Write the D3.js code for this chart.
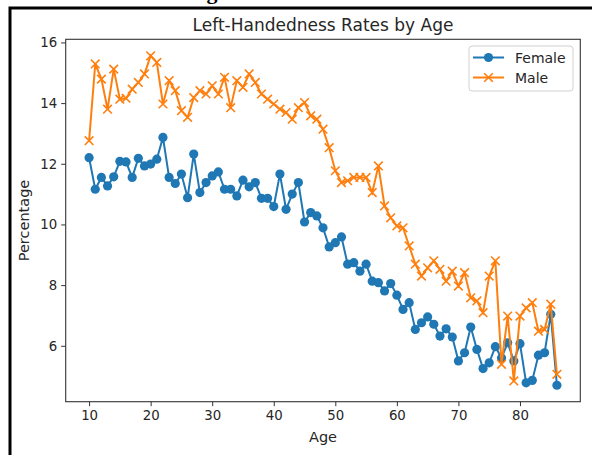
<!DOCTYPE html>
<html>
<head>
<meta charset="utf-8">
<script src="https://cdn.jsdelivr.net/npm/d3@7"></script>
<style>
  html, body { margin: 0; padding: 0; background: #fff; }
  svg { display: block; }
  text { font-family: "DejaVu Sans", sans-serif; fill: #262626; }
</style>
</head>
<body>
<svg id="chart" width="592" height="455"></svg>
<script>
const ages = d3.range(10, 87);
const female = [
  12.2, 11.16, 11.55, 11.27, 11.57, 12.08, 12.06, 11.55, 12.18, 11.93,
  11.99, 12.15, 12.87, 11.55, 11.35, 11.66, 10.88, 12.32, 11.05, 11.38,
  11.6, 11.73, 11.16, 11.16, 10.94, 11.46, 11.24, 11.38, 10.86, 10.86,
  10.59, 11.66, 10.5, 11.0, 11.38, 10.08, 10.39, 10.28, 9.89, 9.26,
  9.4, 9.59, 8.69, 8.74, 8.46, 8.69, 8.13, 8.08, 7.81, 8.05,
  7.67, 7.2, 7.42, 6.54, 6.76, 6.95, 6.71, 6.32, 6.56, 6.29,
  5.5, 5.77, 6.62, 5.88, 5.25, 5.44, 5.97, 5.6, 6.1, 5.5,
  6.07, 4.78, 4.86, 5.69, 5.77, 7.04, 4.7
];
const male = [
  12.76, 15.29, 14.79, 13.8, 15.12, 14.13, 14.16, 14.46, 14.68, 14.96,
  15.56, 15.34, 13.97, 14.74, 14.41, 13.75, 13.53, 14.18, 14.41, 14.3,
  14.57, 14.3, 14.85, 13.85, 14.74, 14.52, 14.96, 14.68, 14.3, 14.13,
  13.97, 13.8, 13.69, 13.47, 13.85, 14.02, 13.58, 13.47, 13.14, 12.53,
  11.77, 11.38, 11.44, 11.55, 11.55, 11.55, 11.05, 11.93, 10.61, 10.22,
  9.95, 9.89, 9.29, 8.69, 8.3, 8.57, 8.8, 8.52, 8.13, 8.46,
  7.97, 8.41, 7.58, 7.48, 7.09, 8.3, 8.8, 5.39, 6.98, 4.84,
  6.98, 7.25, 7.42, 6.48, 6.54, 7.37, 5.06
];
const xTicks = [10, 20, 30, 40, 50, 60, 70, 80];
const yTicks = [6, 8, 10, 12, 14, 16];
const seriesNames = ["Female", "Male"];
const colors = ["#1f77b4", "#ff7f0e"];

const svg = d3.select("#chart");

// outer frame (cropped screenshot border)
svg.append("rect").attr("x", 10).attr("y", 8).attr("width", 620).attr("height", 480)
  .attr("fill", "none").attr("stroke", "#000").attr("stroke-width", 3);
svg.append("text").attr("x", 212).attr("y", -1).attr("text-anchor", "middle")
  .style("font-family", "'Liberation Serif', serif").style("font-weight", "bold")
  .style("font-size", "22px").style("fill", "#000").text("g");

const L = 65.7, R = 580.3, T = 39.3, B = 401.7;
const xPad = (86 - 10) * 0.05;
const x = d3.scaleLinear().domain([10 - xPad, 86 + xPad]).range([L, R]);
const all = female.concat(male);
const lo = d3.min(all), hi = d3.max(all), yPad = (hi - lo) * 0.05;
const y = d3.scaleLinear().domain([lo - yPad, hi + yPad]).range([B, T]);

// axes
const xAxis = d3.axisBottom(x).tickValues(xTicks).tickSize(4.5).tickPadding(4).tickFormat(d3.format("d"));
const yAxis = d3.axisLeft(y).tickValues(yTicks).tickSize(4.5).tickPadding(4).tickFormat(d3.format("d"));
const gx = svg.append("g").attr("transform", `translate(0,${B})`).call(xAxis);
const gy = svg.append("g").attr("transform", `translate(${L},0)`).call(yAxis);
[gx, gy].forEach(g => {
  g.select(".domain").remove();
  g.selectAll(".tick line").attr("stroke", "#333").attr("stroke-width", 1);
  g.selectAll(".tick text").style("font-family", "'DejaVu Sans', sans-serif").style("font-size", "13.3px").attr("fill", "#262626");
});

const line = d3.line().x((d, i) => x(ages[i])).y(d => y(d));

// female
svg.append("path").datum(female).attr("d", line).attr("fill", "none")
  .attr("stroke", colors[0]).attr("stroke-width", 2);
svg.append("g").selectAll("circle").data(female).join("circle")
  .attr("cx", (d, i) => x(ages[i])).attr("cy", d => y(d)).attr("r", 4.6)
  .attr("fill", colors[0]);

// male
svg.append("path").datum(male).attr("d", line).attr("fill", "none")
  .attr("stroke", colors[1]).attr("stroke-width", 2);
const s = 4.3;
svg.append("g").selectAll("path").data(male).join("path")
  .attr("d", (d, i) => {
    const cx = x(ages[i]), cy = y(d);
    return `M${cx - s},${cy - s}L${cx + s},${cy + s}M${cx - s},${cy + s}L${cx + s},${cy - s}`;
  })
  .attr("stroke", colors[1]).attr("stroke-width", 1.6).attr("fill", "none");

// spines
svg.append("rect").attr("x", L).attr("y", T).attr("width", R - L).attr("height", B - T)
  .attr("fill", "none").attr("stroke", "#333").attr("stroke-width", 1.1);

// title & labels
svg.append("text").attr("x", (L + R) / 2).attr("y", 31).attr("text-anchor", "middle")
  .style("font-size", "17px").text("Left-Handedness Rates by Age");
svg.append("text").attr("x", (L + R) / 2).attr("y", 442).attr("text-anchor", "middle")
  .style("font-size", "14.5px").text("Age");
svg.append("text").attr("transform", `translate(29,${(T + B) / 2}) rotate(-90)`).attr("text-anchor", "middle")
  .style("font-size", "14.5px").text("Percentage");

// legend
const lg = svg.append("g");
lg.append("rect").attr("x", 469).attr("y", 46).attr("width", 104).attr("height", 45).attr("rx", 3)
  .attr("fill", "#fff").attr("fill-opacity", 0.8).attr("stroke", "#d0d0d0").attr("stroke-width", 1);
seriesNames.forEach((name, k) => {
  const ly = 57.5 + k * 20;
  lg.append("line").attr("x1", 473).attr("x2", 504).attr("y1", ly).attr("y2", ly)
    .attr("stroke", colors[k]).attr("stroke-width", 2);
  if (k === 0) {
    lg.append("circle").attr("cx", 488.5).attr("cy", ly).attr("r", 4.6).attr("fill", colors[k]);
  } else {
    lg.append("path").attr("d", `M${488.5 - s},${ly - s}L${488.5 + s},${ly + s}M${488.5 - s},${ly + s}L${488.5 + s},${ly - s}`)
      .attr("stroke", colors[k]).attr("stroke-width", 1.6);
  }
  lg.append("text").attr("x", 515).attr("y", ly + 5).style("font-size", "14px").text(name);
});
</script>
</body>
</html>
